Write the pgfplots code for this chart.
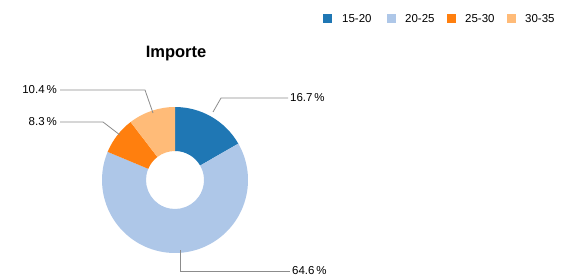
\documentclass[border=0pt]{standalone}
\usepackage{pgfplots}
\pgfplotsset{compat=1.18}
\usepackage{pgfplotstable}
\usepackage{fontspec}
\setmainfont{Liberation Sans}
\definecolor{c1}{HTML}{1F77B4}
\definecolor{c2}{HTML}{AEC7E8}
\definecolor{c3}{HTML}{FF7F0E}
\definecolor{c4}{HTML}{FFBB78}
\definecolor{leader}{HTML}{8C8C8C}
\pgfplotstableread{
label value col
15-20 16.7 c1
20-25 64.6 c2
25-30 8.3 c3
30-35 10.4 c4
}\donutdata
\begin{document}
\begin{tikzpicture}
\begin{axis}[scale only axis, width=568bp, height=277bp,
  xmin=0, xmax=568, ymin=0, ymax=277, y dir=reverse,
  hide axis, clip=false]
\path (rel axis cs:0,0) rectangle (rel axis cs:1,1);
\def\startang{90}
\pgfplotsforeachungrouped \i in {0,...,3}{%
  \pgfplotstablegetelem{\i}{value}\of\donutdata \let\v\pgfplotsretval
  \pgfplotstablegetelem{\i}{col}\of\donutdata \let\c\pgfplotsretval
  \pgfmathsetmacro\endang{\startang-3.6*\v}%
  \edef\temp{\noexpand\fill[\c] ([shift={(\startang:73bp)}]axis cs:175,180) arc[start angle=\startang, end angle=\endang, radius=73bp] -- ([shift={(\endang:29bp)}]axis cs:175,180) arc[start angle=\endang, end angle=\startang, radius=29bp] -- cycle;}%
  \temp
  \global\let\startang\endang
}
% title
\node[font=\fontsize{16.5bp}{19bp}\selectfont\bfseries] at (axis cs:176,54) {Importe};
% leader lines and labels
\begin{scope}[font=\fontsize{11.5bp}{13bp}\selectfont]
\draw[leader, line width=0.8bp] (axis cs:213,112) -- (axis cs:221,98) -- (axis cs:288,98);
\node[anchor=west, inner sep=1bp] at (axis cs:289,98) {16.7\,\%};
\draw[leader, line width=0.8bp] (axis cs:180,250) -- (axis cs:180,271) -- (axis cs:290,271);
\node[anchor=west, inner sep=1bp] at (axis cs:291,271) {64.6\,\%};
\draw[leader, line width=0.8bp] (axis cs:153,113) -- (axis cs:145,90) -- (axis cs:60,90);
\node[anchor=east, inner sep=1bp] at (axis cs:58,90) {10.4\,\%};
\draw[leader, line width=0.8bp] (axis cs:120,135) -- (axis cs:103,122) -- (axis cs:60,122);
\node[anchor=east, inner sep=1bp] at (axis cs:58,122) {8.3\,\%};
% legend
\fill[c1] (axis cs:323,14) rectangle (axis cs:332,23);
\node[anchor=west, inner sep=0pt] at (axis cs:342,18.5) {15-20};
\fill[c2] (axis cs:387,14) rectangle (axis cs:396,23);
\node[anchor=west, inner sep=0pt] at (axis cs:405,18.5) {20-25};
\fill[c3] (axis cs:447,14) rectangle (axis cs:456,23);
\node[anchor=west, inner sep=0pt] at (axis cs:465,18.5) {25-30};
\fill[c4] (axis cs:507,14) rectangle (axis cs:516,23);
\node[anchor=west, inner sep=0pt] at (axis cs:525,18.5) {30-35};
\end{scope}
\end{axis}
\end{tikzpicture}
\end{document}
